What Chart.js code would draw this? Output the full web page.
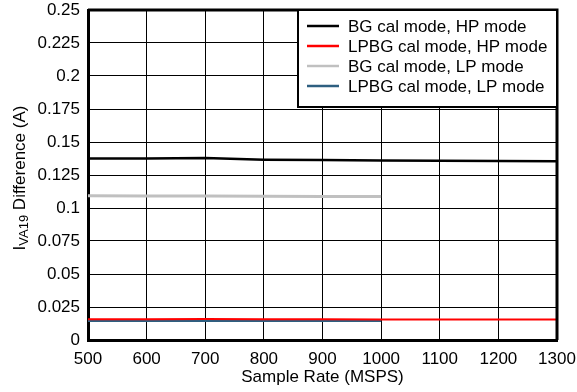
<!DOCTYPE html>
<html>
<head>
<meta charset="utf-8">
<script src="https://cdn.jsdelivr.net/npm/chart.js@4/dist/chart.umd.min.js"></script>
<style>
  html, body { margin: 0; padding: 0; background: #fff; }
  #wrap { width: 577px; height: 392px; position: relative; }
</style>
</head>
<body>
<div id="wrap"><canvas id="c"></canvas></div>
<script>
// sample rates (MSPS)
const rates = [500, 600, 700, 800, 900, 1000, 1100, 1200, 1300];
const ratesLow = [500, 600, 700, 800, 900, 1000];

// I_VA19 difference (A)
const bgHp   = [0.1375, 0.1375, 0.1378, 0.1366, 0.1363, 0.1360, 0.1358, 0.1356, 0.1355];
const lpbgHp = [0.0157, 0.0158, 0.0160, 0.0158, 0.0157, 0.0156, 0.0156, 0.0156, 0.0156];
const bgLp   = [0.1092, 0.1091, 0.1090, 0.1089, 0.1088, 0.1087];
const lpbgLp = [0.0145, 0.0145, 0.0146, 0.0145, 0.0145, 0.0145];

const seriesNames = ['BG cal mode, HP mode', 'LPBG cal mode, HP mode', 'BG cal mode, LP mode', 'LPBG cal mode, LP mode'];

const FONT = '"Liberation Sans", Arial, sans-serif';
const pts = (xs, ys) => xs.map((x, i) => ({x, y: ys[i]}));

// legend box + plot frame + y title with subscript
const extras = {
  id: 'extras',
  afterDraw(chart) {
    const ctx = chart.ctx;
    const a = chart.chartArea;
    ctx.save();

    // frame top / right
    ctx.strokeStyle = '#000';
    ctx.lineWidth = 3;
    ctx.beginPath();
    ctx.moveTo(a.left, a.top); ctx.lineTo(a.right, a.top); ctx.lineTo(a.right, a.bottom);
    ctx.stroke();

    // legend
    const w = 259, h = 97;
    const lx = a.right - w, ly = a.top;
    ctx.fillStyle = '#fff';
    ctx.fillRect(lx, ly, w, h);
    ctx.lineWidth = 2;
    ctx.strokeRect(lx, ly, w, h);
    ctx.font = '17px ' + FONT;
    ctx.textBaseline = 'middle';
    chart.data.datasets.forEach((ds, i) => {
      const y = ly + 16 + i * 20;
      ctx.strokeStyle = ds.borderColor;
      ctx.lineWidth = 2.5;
      ctx.beginPath(); ctx.moveTo(lx + 9, y); ctx.lineTo(lx + 41, y); ctx.stroke();
      ctx.fillStyle = '#000';
      ctx.fillText(ds.label, lx + 50, y + 1);
    });

    // y axis title
    ctx.translate(25, (a.top + a.bottom) / 2 + 3);
    ctx.rotate(-Math.PI / 2);
    ctx.fillStyle = '#000';
    ctx.textBaseline = 'alphabetic';
    const big = '17px ' + FONT, small = '13px ' + FONT;
    ctx.font = big; const wI = ctx.measureText('I').width;
    ctx.font = small; const wS = ctx.measureText('VA19').width;
    ctx.font = big; const wR = ctx.measureText(' Difference (A)').width;
    let x = -(wI + wS + wR) / 2;
    ctx.font = big; ctx.fillText('I', x, 0); x += wI;
    ctx.font = small; ctx.fillText('VA19', x, 3); x += wS;
    ctx.font = big; ctx.fillText(' Difference (A)', x, 0);
    ctx.restore();
  }
};

new Chart(document.getElementById('c'), {
  type: 'line',
  data: {
    datasets: [
      { label: seriesNames[0], data: pts(rates, bgHp), borderColor: '#000000', borderWidth: 2.5 },
      { label: seriesNames[1], data: pts(rates, lpbgHp), borderColor: '#ff0000', borderWidth: 2 },
      { label: seriesNames[2], data: pts(ratesLow, bgLp), borderColor: '#c0c0c0', borderWidth: 3 },
      { label: seriesNames[3], data: pts(ratesLow, lpbgLp), borderColor: '#2e5f80', borderWidth: 2.5 }
    ].map(d => Object.assign(d, { pointRadius: 0, tension: 0, fill: false }))
  },
  options: {
    responsive: true,
    maintainAspectRatio: false,
    animation: false,
    layout: { padding: { left: 0, right: 20, top: 10, bottom: 0 } },
    plugins: { legend: { display: false }, tooltip: { enabled: false } },
    scales: {
      x: {
        type: 'linear', min: 500, max: 1300,
        ticks: { stepSize: 100, color: '#000', font: { family: FONT, size: 17 }, padding: 9, maxRotation: 0,
                 callback: v => String(v) },
        grid: { color: '#000', lineWidth: 1, drawTicks: false },
        border: { color: '#000', width: 3 },
        title: { display: true, text: 'Sample Rate (MSPS)', color: '#000', font: { family: FONT, size: 17 }, padding: { top: 0, bottom: 4 } },
        afterFit: s => { s.height = 52; s.paddingLeft = 0; s.paddingRight = 0; }
      },
      y: {
        min: 0, max: 0.25,
        ticks: { stepSize: 0.025, color: '#000', font: { family: FONT, size: 17 }, padding: 8,
                 callback: v => String(Math.round(v * 1000) / 1000) },
        grid: { color: '#000', lineWidth: 1, drawTicks: false },
        border: { color: '#000', width: 3 },
        afterFit: s => { s.width = 88; s.paddingTop = 0; s.paddingBottom = 0; }
      }
    }
  },
  plugins: [extras]
});
</script>
</body>
</html>
